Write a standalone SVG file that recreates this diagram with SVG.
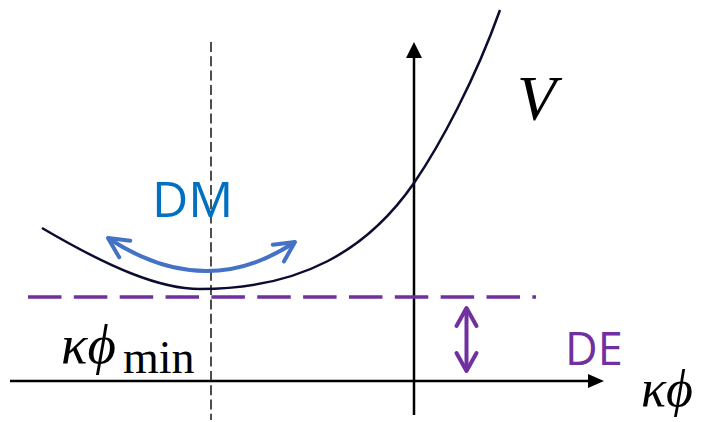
<svg xmlns="http://www.w3.org/2000/svg" width="703" height="422" viewBox="0 0 703 422">
<style>
.axis{stroke:#000;stroke-width:2.5;fill:none}
.math{font-family:"Liberation Serif","DejaVu Serif",serif;font-style:italic;fill:#000}
.sub{font-family:"Liberation Serif","DejaVu Serif",serif;font-style:normal;fill:#000}
.lbl{font-family:"Open Sans","Noto Sans",sans-serif}
</style>
<defs>
<marker id="headP" markerUnits="userSpaceOnUse" markerWidth="30" markerHeight="30" viewBox="-15 -15 30 30" refX="0" refY="0" orient="auto-start-reverse" overflow="visible">
<path d="M-18,-10 L0,0 L-18,10" fill="none" stroke="#7030a0" stroke-width="4" stroke-linecap="round" stroke-linejoin="round"/>
</marker>
<marker id="headB" markerUnits="userSpaceOnUse" markerWidth="30" markerHeight="30" viewBox="-15 -15 30 30" refX="0" refY="0" orient="auto-start-reverse" overflow="visible">
<path d="M-20,-10 L0,0 L-20,10" fill="none" stroke="#4472c4" stroke-width="4" stroke-linecap="round" stroke-linejoin="round"/>
</marker>
</defs>
<g id="axes">
<line class="axis" x1="10" y1="381" x2="590" y2="381"/>
<polygon points="604,381 588,374 588,388" fill="#000"/>
<line class="axis" x1="414" y1="415" x2="414" y2="55"/>
<polygon points="414,42 406,58 422,58" fill="#000"/>
</g>
<g id="min-line">
<line x1="211" y1="42" x2="211" y2="420" stroke="#222" stroke-width="1.6" stroke-dasharray="10,4.3"/>
</g>
<g id="de-line">
<line x1="28" y1="297" x2="536" y2="297" stroke="#7030a0" stroke-width="3.5" stroke-dasharray="33.5,12.35"/>
</g>
<g id="potential">
<path d="M42,228 C110,268 160,289 200,289 C300,289 367,251 414,183 C440,145 475,80 500,10" fill="none" stroke="#0c0c30" stroke-width="2.5"/>
</g>
<g id="connectors">
<path d="M108,238 Q205,302 295,242" fill="none" stroke="#4472c4" stroke-width="4" marker-start="url(#headB)" marker-end="url(#headB)"/>
<line x1="466.5" y1="308" x2="466.5" y2="371" stroke="#7030a0" stroke-width="4" marker-start="url(#headP)" marker-end="url(#headP)"/>
</g>
<g id="labels">
<text class="lbl" x="152" y="217" font-size="50" fill="#0070c0">DM</text>
<text class="lbl" x="565" y="365" font-size="45" fill="#7030a0">DE</text>
<text class="math" x="517" y="120" font-size="64">V</text>
<text x="61" y="363" font-size="55"><tspan class="math">κϕ</tspan><tspan class="sub" font-size="46" dx="7" dy="10">min</tspan></text>
<text class="math" x="641" y="406" font-size="52">κϕ</text>
</g>
</svg>
